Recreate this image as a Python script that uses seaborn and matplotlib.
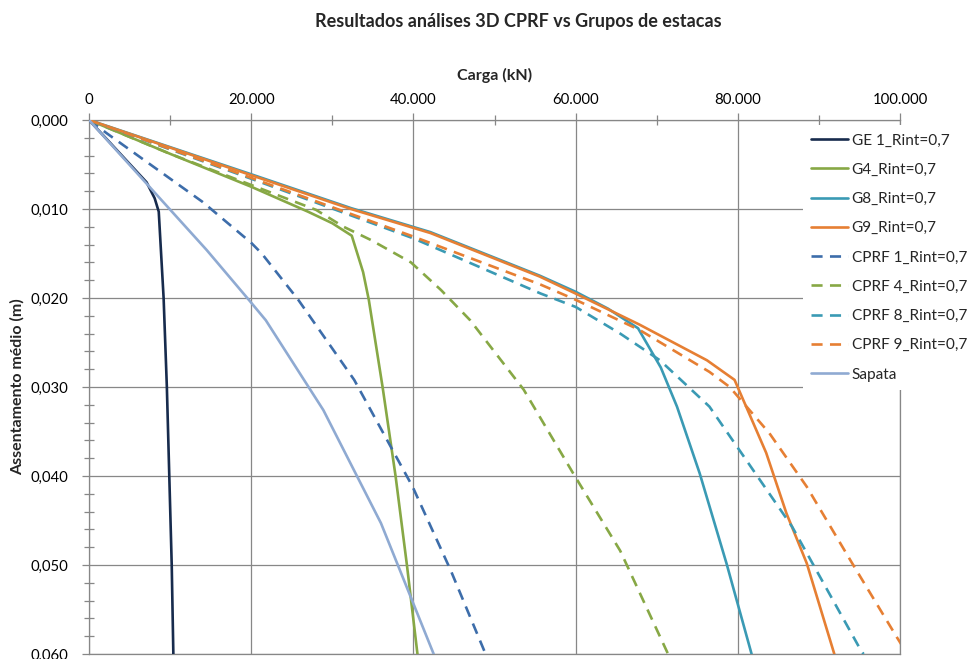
import matplotlib
matplotlib.use("Agg")
import matplotlib.pyplot as plt
from matplotlib.ticker import FixedLocator, MultipleLocator, FixedFormatter
import pandas as pd
import seaborn as sns

# Load (kN) vs mean settlement (m) for each model
ge1_load = [0, 7100, 8100, 8600, 9200, 9600, 9900, 10200, 10400]
ge1_settl = [0, 0.0070, 0.0088, 0.0103, 0.0200, 0.0300, 0.0400, 0.0500, 0.0600]

g4_load = [0, 10000, 20000, 27000, 30000, 32400, 33800, 34500, 36200, 37800, 39200, 40500]
g4_settl = [0, 0.0038, 0.0075, 0.0103, 0.0116, 0.0130, 0.0171, 0.0202, 0.0300, 0.0400, 0.0500, 0.0600]

g8_load = [0, 20000, 32300, 42100, 55600, 60000, 64000, 67700, 70500, 72500, 75300, 78600, 81700]
g8_settl = [0, 0.0061, 0.0099, 0.0126, 0.0175, 0.0193, 0.0212, 0.0234, 0.0278, 0.0322, 0.0397, 0.0498, 0.0600]

g9_load = [0, 20000, 32300, 42100, 55600, 60000, 67900, 76200, 79600, 83500, 86000, 88500, 91900]
g9_settl = [0, 0.0062, 0.0100, 0.0127, 0.0176, 0.0195, 0.0230, 0.0270, 0.0292, 0.0374, 0.0442, 0.0498, 0.0600]

cprf1_load = [0, 2200, 14000, 20000, 21300, 25800, 32700, 39900, 44600, 48900]
cprf1_settl = [0, 0.0015, 0.0092, 0.0138, 0.0150, 0.0202, 0.0292, 0.0412, 0.0506, 0.0600]

cprf4_load = [0, 10000, 20000, 28000, 31400, 34800, 39700, 43400, 47000, 53600, 59700, 65500, 71400]
cprf4_settl = [0, 0.0038, 0.0073, 0.0101, 0.0120, 0.0135, 0.0160, 0.0191, 0.0225, 0.0303, 0.0397, 0.0484, 0.0600]

cprf8_load = [0, 20000, 40000, 55700, 60000, 65500, 70400, 76500, 79900, 86700, 95000, 95500]
cprf8_settl = [0, 0.0066, 0.0133, 0.0195, 0.0210, 0.0240, 0.0270, 0.0322, 0.0367, 0.0457, 0.0593, 0.0600]

cprf9_load = [0, 20000, 40000, 55700, 60000, 67900, 76500, 79000, 83900, 88500, 94100, 99600, 100900]
cprf9_settl = [0, 0.0065, 0.0131, 0.0185, 0.0202, 0.0236, 0.0283, 0.0300, 0.0352, 0.0412, 0.0498, 0.0581, 0.0600]

sapata_load = [0, 14500, 19700, 21800, 28900, 36000, 42500]
sapata_settl = [0, 0.0146, 0.0202, 0.0225, 0.0326, 0.0453, 0.0600]

series_names = ["GE 1_Rint=0,7", "G4_Rint=0,7", "G8_Rint=0,7", "G9_Rint=0,7",
                "CPRF 1_Rint=0,7", "CPRF 4_Rint=0,7", "CPRF 8_Rint=0,7",
                "CPRF 9_Rint=0,7", "Sapata"]
series_data = [(ge1_load, ge1_settl), (g4_load, g4_settl), (g8_load, g8_settl),
               (g9_load, g9_settl), (cprf1_load, cprf1_settl), (cprf4_load, cprf4_settl),
               (cprf8_load, cprf8_settl), (cprf9_load, cprf9_settl), (sapata_load, sapata_settl)]
series_colors = ["#172B4D", "#87A845", "#3A9AB4", "#E67F33",
                 "#3D6DAA", "#87A845", "#3A9AB4", "#E67F33", "#8FAAD2"]
series_dashed = [False, False, False, False, True, True, True, True, False]

x_ticks = [0, 20000, 40000, 60000, 80000, 100000]
x_tick_labels = ["0", "20.000", "40.000", "60.000", "80.000", "100.000"]
y_ticks = [0.0, 0.01, 0.02, 0.03, 0.04, 0.05, 0.06]
y_tick_labels = ["0,000", "0,010", "0,020", "0,030", "0,040", "0,050", "0,060"]

sns.set_theme(style="white")
plt.rcParams["font.family"] = ["Lato", "DejaVu Sans"]

W, H = 968, 659
fig = plt.figure(figsize=(W / 100, H / 100), dpi=100)
x0, x1, y0, y1 = 89, 900, 120, 654
ax = fig.add_axes([x0 / W, 1 - y1 / H, (x1 - x0) / W, (y1 - y0) / H])

frames = []
for name, (xs, ys) in zip(series_names, series_data):
    frames.append(pd.DataFrame({"Carga": xs, "Assentamento": ys, "serie": name}))
df = pd.concat(frames, ignore_index=True)

for name, color, dashed in zip(series_names, series_colors, series_dashed):
    sub = df[df["serie"] == name]
    ls = (0, (4.2, 2.8)) if dashed else "-"
    sns.lineplot(data=sub, x="Carga", y="Assentamento", ax=ax, color=color,
                 linewidth=1.9, linestyle=ls, sort=False, estimator=None,
                 label=name, legend=False, zorder=3)

ax.set_xlim(0, 100000)
ax.set_ylim(0.06, 0.0)

grid_c = "#878787"
ax.xaxis.tick_top()
ax.xaxis.set_label_position("top")
ax.xaxis.set_major_locator(FixedLocator(x_ticks))
ax.xaxis.set_major_formatter(FixedFormatter(x_tick_labels))
ax.xaxis.set_minor_locator(MultipleLocator(10000))
ax.yaxis.set_major_locator(FixedLocator(y_ticks))
ax.yaxis.set_major_formatter(FixedFormatter(y_tick_labels))
ax.yaxis.set_minor_locator(MultipleLocator(0.002))

ax.grid(True, which="major", color=grid_c, linewidth=0.9)
ax.grid(False, which="minor")
for sp in ax.spines.values():
    sp.set_color(grid_c)
    sp.set_linewidth(0.9)

ax.tick_params(axis="both", which="major", direction="out", length=5, width=0.9,
               color=grid_c, labelsize=10.7, labelcolor="black")
ax.tick_params(axis="y", which="major", pad=10, left=True)
ax.tick_params(axis="x", which="major", pad=4, top=True, bottom=False)
ax.tick_params(axis="both", which="minor", direction="inout", length=7, width=0.9,
               color=grid_c)
ax.tick_params(axis="x", which="minor", top=True, bottom=False)
ax.tick_params(axis="y", which="minor", left=True, right=False)

ax.set_xlabel("Carga (kN)", fontsize=11.5, fontweight="bold", va="center")
ax.xaxis.set_label_coords(0.5, 1 + (y0 - 75) / (y1 - y0))
ax.set_ylabel("Assentamento médio (m)", fontsize=11.5, fontweight="bold", va="center")
ax.yaxis.set_label_coords((17 - x0) / (x1 - x0), 0.5)

fig.text(518 / W, 1 - 22 / H, "Resultados análises 3D CPRF vs Grupos de estacas",
         ha="center", va="center", fontsize=13, fontweight="bold")

leg = ax.legend(loc="upper left", bbox_to_anchor=(803 / W, 1 - 125 / H),
                bbox_transform=fig.transFigure, frameon=True, fancybox=False,
                framealpha=1, facecolor="white", edgecolor="none",
                fontsize=11.1, handlelength=2.4, handletextpad=0.2,
                labelspacing=0.99, borderpad=0.55, borderaxespad=0)
leg.set_zorder(10)

fig.savefig("out.png", dpi=100, facecolor="white")
